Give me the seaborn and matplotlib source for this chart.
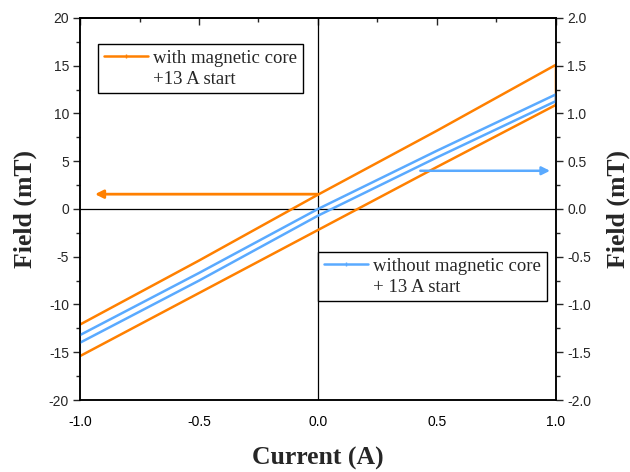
import matplotlib
matplotlib.use("Agg")
import matplotlib.pyplot as plt
from matplotlib.lines import Line2D
from matplotlib.ticker import MultipleLocator
import seaborn as sns
import pandas as pd

# ---- data ----
current = [-1.0, -0.5, 0.0, 0.5, 1.0]
core_upper = [-12.1, -5.4, 1.5, 8.2, 15.1]      # mT (left axis)
core_lower = [-15.4, -8.8, -2.2, 4.4, 10.9]
air_upper = [-1.32, -0.67, 0.0, 0.61, 1.20]     # mT (right axis)
air_lower = [-1.40, -0.75, -0.07, 0.54, 1.13]
x_ticks = [-1.0, -0.5, 0.0, 0.5, 1.0]
left_ticks = [-20, -15, -10, -5, 0, 5, 10, 15, 20]
right_ticks = [-2.0, -1.5, -1.0, -0.5, 0.0, 0.5, 1.0, 1.5, 2.0]
legend_core = ["with magnetic core", "+13 A start"]
legend_air = ["without magnetic core", "+ 13 A start"]

ORANGE = "#FF8000"
BLUE = "#5AAAFF"

sns.set_style("white")
plt.rcParams["font.family"] = ["Liberation Sans", "DejaVu Sans"]
SERIF = ["Liberation Serif", "DejaVu Serif"]

fig = plt.figure(figsize=(6.3, 4.72), dpi=100)
ax = fig.add_axes([0.127, 0.1525, 0.7555, 0.8095])
ax2 = ax.twinx()

def loop_df(upper, lower):
    xs = current + current[::-1]
    ys = upper + lower[::-1]
    return pd.DataFrame({"x": xs, "y": ys})

sns.lineplot(data=loop_df(core_upper, core_lower), x="x", y="y", sort=False,
             estimator=None, color=ORANGE, lw=1.8, ax=ax)
sns.lineplot(data=loop_df(air_upper, air_lower), x="x", y="y", sort=False,
             estimator=None, color=BLUE, lw=1.8, ax=ax2)

ax.axhline(0, color="black", lw=0.9, zorder=1)
ax.axvline(0, color="black", lw=0.9, zorder=1)

ax.set_xlim(-1, 1)
ax.set_ylim(-20, 20)
ax2.set_ylim(-2, 2)
ax.set_xticks(x_ticks)
ax.set_xticklabels([f"{v:.1f}" for v in x_ticks])
ax.set_yticks(left_ticks)
ax.set_yticklabels([str(v) for v in left_ticks])
ax2.set_yticks(right_ticks)
ax2.set_yticklabels([f"{v:.1f}" for v in right_ticks])
ax.xaxis.set_minor_locator(MultipleLocator(0.25))
ax.yaxis.set_minor_locator(MultipleLocator(2.5))
ax2.yaxis.set_minor_locator(MultipleLocator(0.25))

TICK_FS = 10
ax.tick_params(axis="x", which="both", direction="out", top=False, labeltop=False,
               labelsize=TICK_FS, colors="black", pad=6)
ax.tick_params(axis="x", which="major", length=5, width=1)
ax.tick_params(axis="x", which="minor", length=3, width=1)
ax.tick_params(axis="y", which="both", direction="out", left=True, right=False,
               labelsize=TICK_FS, pad=3)
ax.tick_params(axis="y", which="major", length=5, width=1)
ax.tick_params(axis="y", which="minor", length=3, width=1)
ax2.tick_params(axis="y", which="both", direction="out", right=True, labelsize=TICK_FS, pad=3)
ax2.tick_params(axis="y", which="major", length=5, width=1)
ax2.tick_params(axis="y", which="minor", length=3, width=1)
# top ticks inward
secx = ax.secondary_xaxis("top")
secx.set_xticks(x_ticks)
secx.xaxis.set_minor_locator(MultipleLocator(0.25))
secx.tick_params(axis="x", which="both", direction="in", labeltop=False)
secx.tick_params(axis="x", which="major", length=5, width=1)
secx.tick_params(axis="x", which="minor", length=3, width=1)

for a in (ax, ax2):
    for s in a.spines.values():
        s.set_color("black")
        s.set_linewidth(1.1)
secx.spines["top"].set_linewidth(1.1)

lab_font = dict(family=SERIF, fontweight="bold", fontsize=18.5)
ax.set_xlabel("Current (A)", **lab_font, labelpad=13)
ax.set_ylabel("Field (mT)", **lab_font)
ax2.set_ylabel("Field (mT)", **lab_font, rotation=90)
ax.yaxis.set_label_coords(-0.090, 0.5)
ax2.yaxis.set_label_coords(1.107, 0.5)

# arrows
ax.annotate("", xy=(-0.937, 1.55), xytext=(0.0, 1.55),
            arrowprops=dict(arrowstyle="-|>", color=ORANGE, lw=2, mutation_scale=12,
                            shrinkA=0, shrinkB=0))
ax2.annotate("", xy=(0.975, 0.40), xytext=(0.43, 0.40),
             arrowprops=dict(arrowstyle="-|>", color=BLUE, lw=1.8, mutation_scale=12,
                             shrinkA=0, shrinkB=0))

# legends
leg_font = dict(family=SERIF, size=13.5)
common = dict(loc="upper left", prop=leg_font, frameon=True, fancybox=False,
              edgecolor="black", framealpha=1, handlelength=2.35, handletextpad=0.3,
              labelspacing=0.2, borderpad=0.3, borderaxespad=0)
h1 = [Line2D([], [], color=ORANGE, lw=1.8, marker="|", markersize=3),
      Line2D([], [], color="none")]
leg1 = ax2.legend(h1, legend_core, bbox_to_anchor=(0.038, 0.932), **common)
leg1.get_frame().set_linewidth(1.0)
ax2.add_artist(leg1)
h2 = [Line2D([], [], color=BLUE, lw=1.8, marker="|", markersize=3),
      Line2D([], [], color="none")]
leg2 = ax2.legend(h2, legend_air, bbox_to_anchor=(0.5, 0.387), **common)
leg2.get_frame().set_linewidth(1.0)

fig.savefig("out.png", dpi=100)
